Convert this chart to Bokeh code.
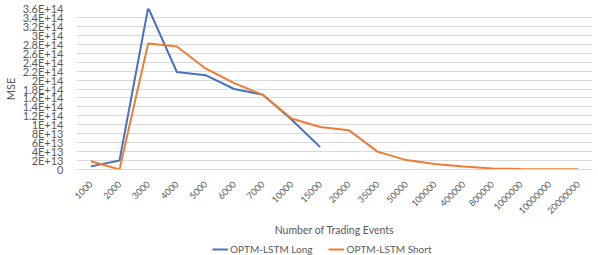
import math
from bokeh.plotting import figure
from bokeh.layouts import column
from bokeh.models import (ColumnDataSource, FactorRange, Range1d, FixedTicker,
                          CustomJSTickFormatter, Legend, LegendItem)
from bokeh.embed import file_html
from bokeh.resources import INLINE

categories = ["1000", "2000", "3000", "4000", "5000", "6000", "7000", "10000",
              "15000", "20000", "35000", "50000", "100000", "400000", "800000",
              "1000000", "10000000", "20000000"]
long_cats = categories[:9]
long_vals = [7e12, 2.0e13, 3.62e14, 2.18e14, 2.11e14, 1.80e14, 1.67e14, 1.12e14, 5.0e13]
short_vals = [1.85e13, 2e11, 2.82e14, 2.75e14, 2.26e14, 1.93e14, 1.67e14, 1.14e14,
              9.5e13, 8.8e13, 4.0e13, 2.1e13, 1.25e13, 6.5e12, 2e12, 1.2e12, 6e11, 3e11]

y_ticks = [i * 2e13 for i in range(19)]
y_tick_labels = ["0", "2E+13", "4E+13", "6E+13", "8E+13", "1E+14", "1.2E+14", "1.4E+14",
                 "1.6E+14", "1.8E+14", "2E+14", "2.2E+14", "2.4E+14", "2.6E+14",
                 "2.8E+14", "3E+14", "3.2E+14", "3.4E+14", "3.6E+14"]

series_names = ["OPTM-LSTM Long", "OPTM-LSTM Short"]
BLUE = "#4472C4"
ORANGE = "#ED7D31"
TXT = "#595959"
FONT = "Lato"

p = figure(width=598, height=238, x_range=FactorRange(*categories),
           y_range=Range1d(0, 3.6e14), output_backend="svg", toolbar_location=None,
           min_border_left=58, min_border_right=6, min_border_top=8, min_border_bottom=66)
p.outline_line_color = None
p.background_fill_color = "white"

src_long = ColumnDataSource(dict(x=long_cats, y=long_vals))
src_short = ColumnDataSource(dict(x=categories, y=short_vals))
p.line("x", "y", source=src_long, line_color=BLUE, line_width=2)
p.line("x", "y", source=src_short, line_color=ORANGE, line_width=2)

p.xgrid.grid_line_color = None
p.ygrid.grid_line_color = "#D9D9D9"
p.ygrid.grid_line_width = 1

yax = p.yaxis[0]
yax.ticker = FixedTicker(ticks=y_ticks)
yax.formatter = CustomJSTickFormatter(args=dict(yt=y_ticks, yl=y_tick_labels), code="""
const i = yt.findIndex(t => Math.abs(t - tick) < 1);
return i >= 0 ? yl[i] : "";
""")
yax.axis_line_color = None
yax.major_tick_line_color = None
yax.minor_tick_line_color = None
yax.major_label_standoff = 7
yax.major_label_text_font = FONT
yax.major_label_text_font_size = "11px"
yax.major_label_text_color = TXT
yax.axis_label = "MSE"
yax.axis_label_text_font = FONT
yax.axis_label_text_font_size = "11px"
yax.axis_label_text_font_style = "normal"
yax.axis_label_text_color = TXT
yax.axis_label_standoff = 3

xax = p.xaxis[0]
xax.axis_line_color = "#D9D9D9"
xax.major_tick_line_color = None
xax.minor_tick_line_color = None
xax.major_label_orientation = math.pi / 4
xax.major_label_standoff = 7
xax.major_label_text_font = FONT
xax.major_label_text_font_size = "9px"
xax.major_label_text_color = TXT
xax.axis_label = "Number of Trading Events"
xax.axis_label_text_font = FONT
xax.axis_label_text_font_size = "10.5px"
xax.axis_label_text_font_style = "normal"
xax.axis_label_text_color = TXT
xax.axis_label_standoff = 4

# legend strip below the chart
lg = figure(width=598, height=17, x_range=Range1d(0, 1), y_range=Range1d(0, 1),
            output_backend="svg", toolbar_location=None, min_border=0)
lg.axis.visible = False
lg.grid.visible = False
lg.outline_line_color = None
g1 = lg.line(x=[-2, -1], y=[-2, -1], line_color=BLUE, line_width=2)
g2 = lg.line(x=[-2, -1], y=[-2, -1], line_color=ORANGE, line_width=2)
legend = Legend(items=[LegendItem(label=series_names[0], renderers=[g1]),
                       LegendItem(label=series_names[1], renderers=[g2])],
                location=(136, 0), orientation="horizontal",
                label_text_font=FONT, label_text_font_size="10px", label_text_color=TXT,
                glyph_width=16, glyph_height=12, label_standoff=2, spacing=16,
                label_height=12, padding=0, margin=0, border_line_color=None,
                background_fill_alpha=0)
lg.add_layout(legend, "center")

layout = column(p, lg, spacing=0)
open("out.html", "w").write(file_html(layout, INLINE))
